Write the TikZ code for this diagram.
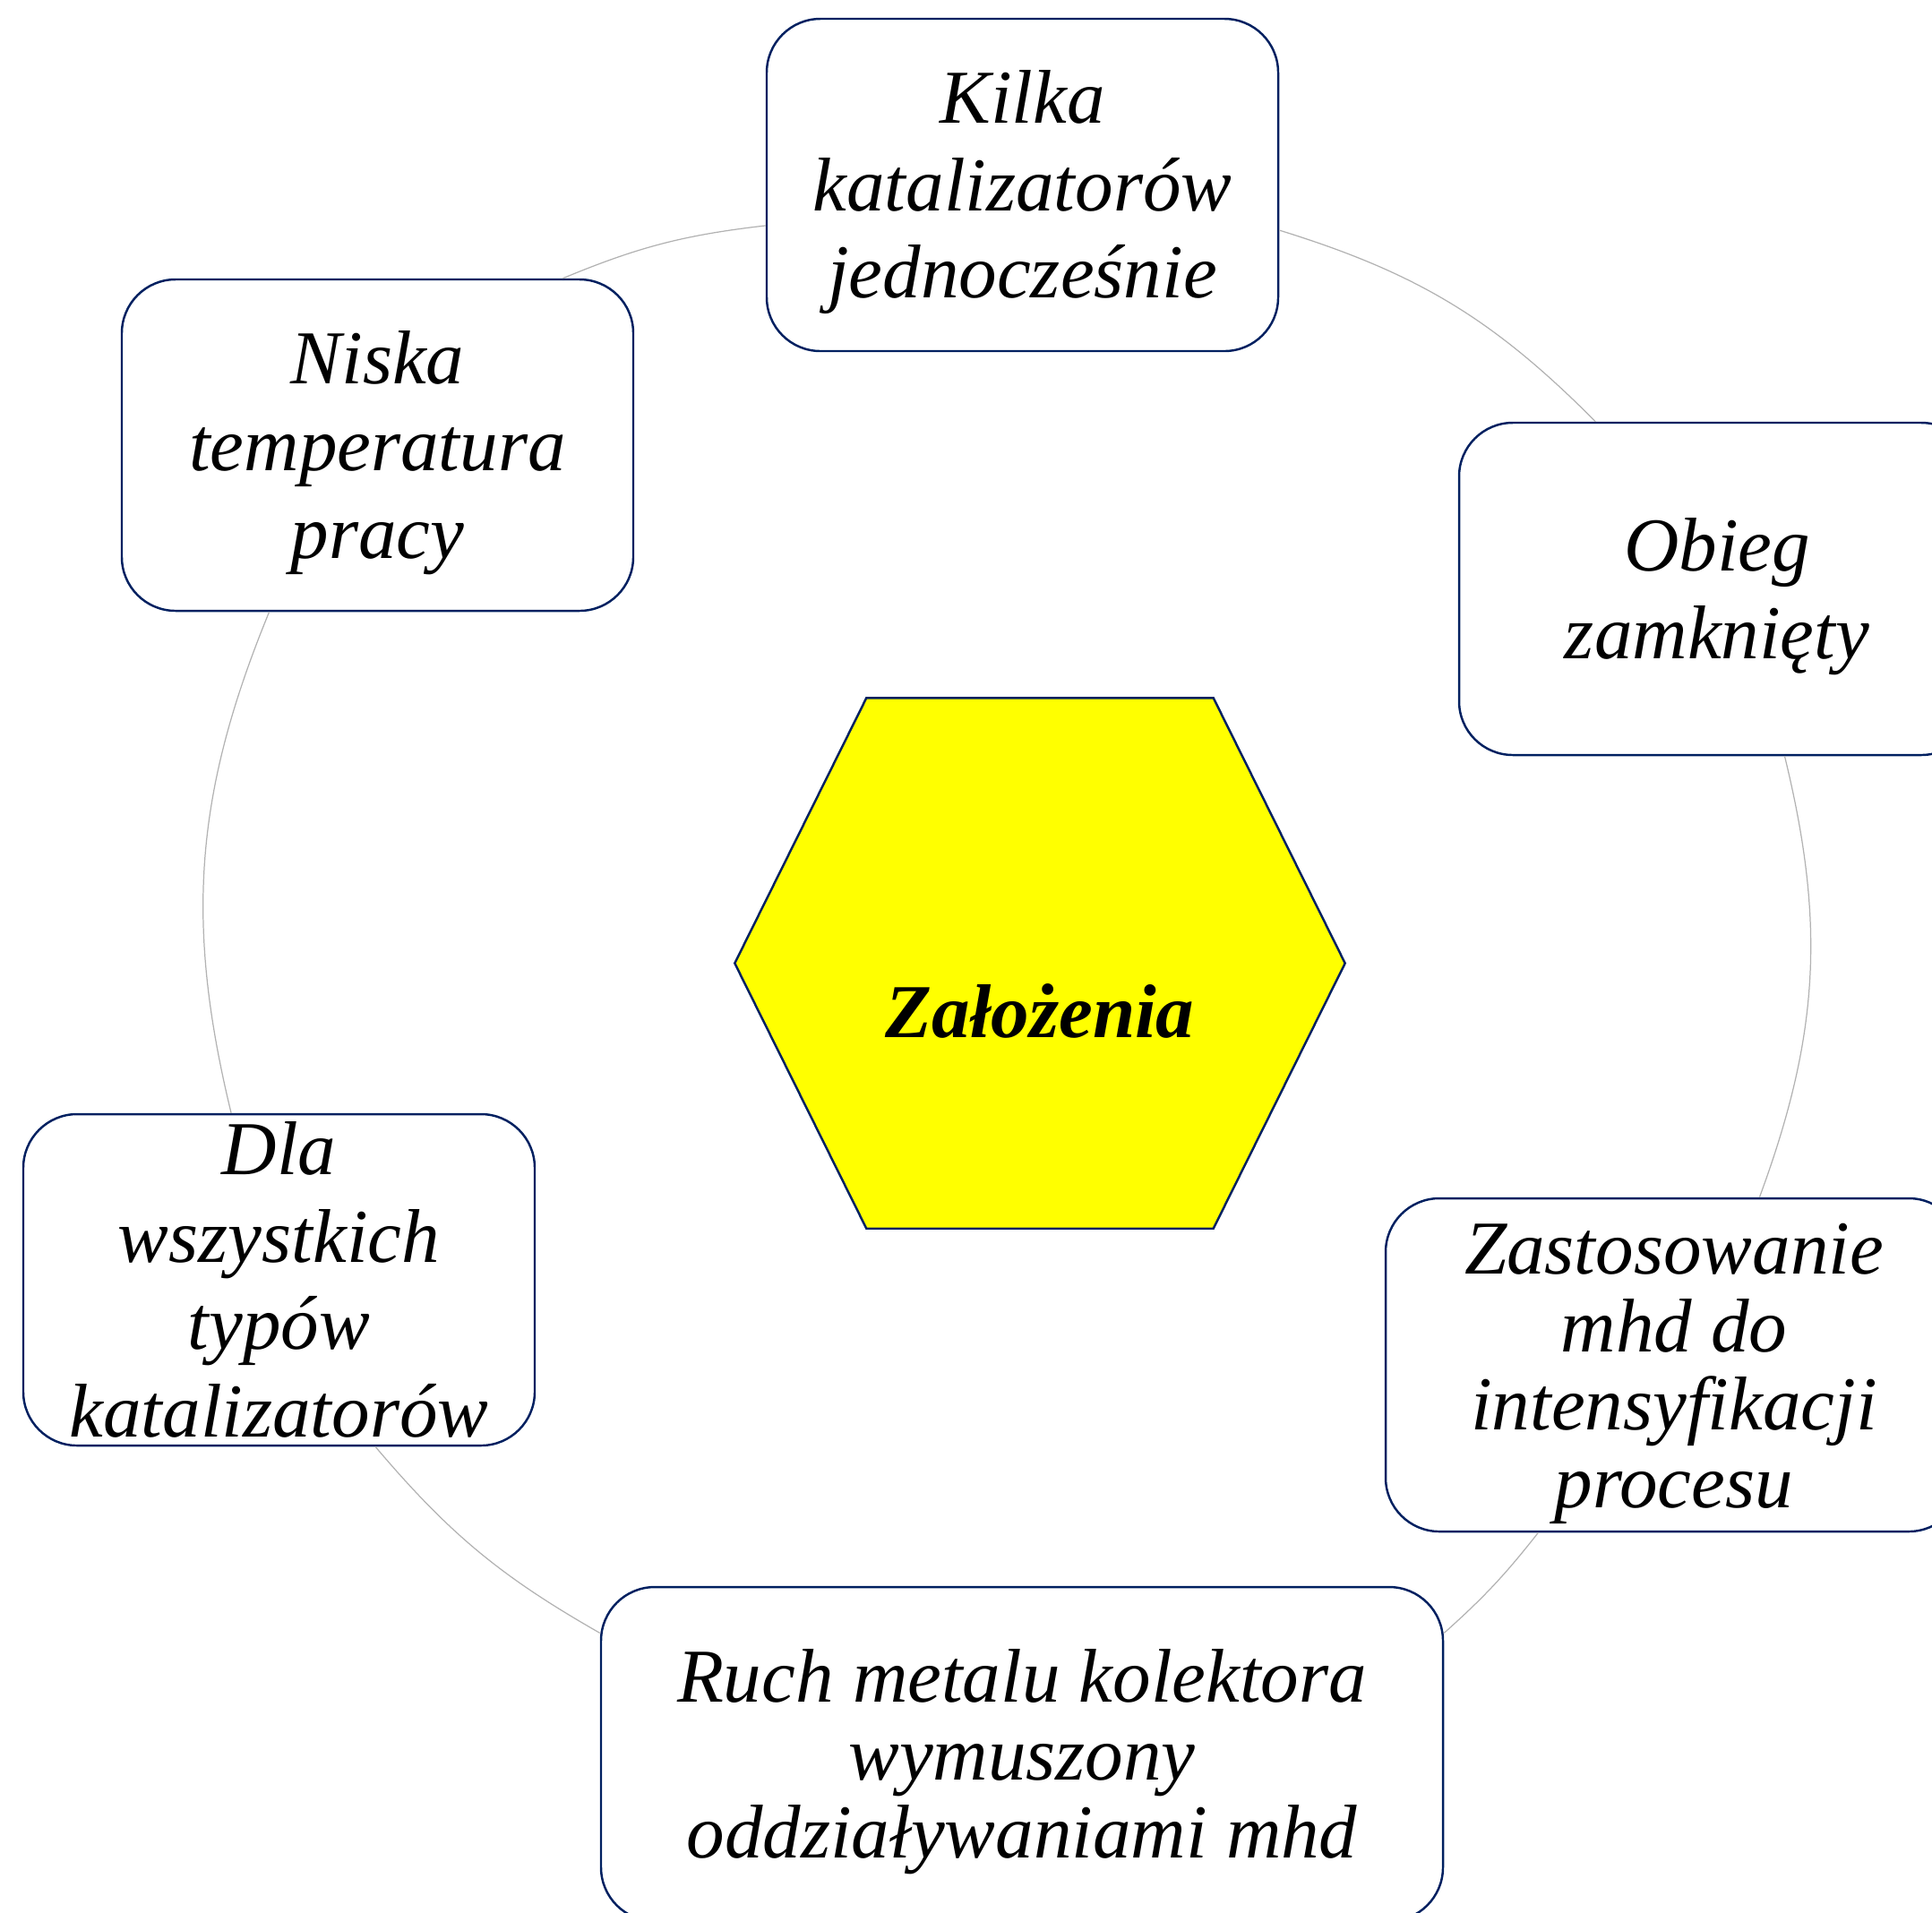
\documentclass[tikz,border=0pt]{standalone}
\usepackage{fontspec}
\setmainfont{Liberation Serif}
\usetikzlibrary{shapes.geometric, positioning}
\definecolor{granat}{RGB}{0,32,96}
\definecolor{szary}{RGB}{178,178,178}
\definecolor{zolty}{RGB}{255,255,0}
\newcommand{\gora}{\rule{0pt}{0.891em}}
\newcommand{\dol}{\rule[-0.216em]{0pt}{0.216em}}

\begin{document}
\begin{tikzpicture}[
  cel/.style={rectangle, draw=granat, line width=0.7pt, rounded corners=0.6cm, fill=white, align=center, inner sep=0pt, minimum width=5.71cm, minimum height=3.71cm, font=\fontsize{24.2}{27.8}\selectfont\itshape},
  ciasny/.style={font=\fontsize{24.2}{24.8}\selectfont\itshape},
  szesc/.style={draw=granat, line width=0.7pt, fill=zolty},
  luk/.style={draw=szary, line width=0.35pt}
]
  \useasboundingbox (0,0) rectangle (21.57,-21.35);

  % Srodek
  \node[minimum width=6.8cm, minimum height=5.91cm, inner sep=0pt] (zal) at (11.61,-10.755) {};
  \draw[szesc] (zal.west) -- ([xshift=1.47cm]zal.north west) -- ([xshift=-1.47cm]zal.north east)
    -- (zal.east) -- ([xshift=-1.47cm]zal.south east) -- ([xshift=1.47cm]zal.south west) -- cycle;
  \node[font=\fontsize{24.2}{27.8}\selectfont\bfseries\itshape] (zaltxt) at ([yshift=-0.53cm]zal.center) {Założenia};

  % Zalozenia dookola
  \node[cel] (kilka) at (11.415,-2.065) {\gora Kilka\\katalizatorów\\jednocześnie\dol};
  \node[cel, minimum width=5.76cm] (obieg) at (19.17,-6.575) {\gora Obieg\\zamknięty\dol};
  \node[cel, ciasny, minimum width=6.44cm, minimum height=3.72cm] (zast) at (18.69,-15.24) {\gora Zastosowanie\\mhd do\\intensyfikacji\\procesu\dol};
  \node[cel, ciasny, minimum width=9.4cm, minimum height=3.73cm] (ruch) at (11.41,-19.585) {\gora Ruch metalu kolektora\\wymuszony\\oddziaływaniami mhd\dol};
  \node[cel, minimum height=3.7cm] (dla) at (3.115,-14.29) {Dla\\wszystkich\\typów\\katalizatorów};
  \node[cel, minimum height=3.7cm] (niska) at (4.215,-4.97) {\gora Niska\\temperatura\\pracy\dol};

  \draw[luk] (niska.42) to[bend left=8] (kilka.189.6);
  \draw[luk] (kilka.350.3) to[bend left=14] (obieg.126);
  \draw[luk] (obieg.292) to[bend left=17] (zast.63);
  \draw[luk] (zast.231) to[bend left=5] (ruch.16);
  \draw[luk] (ruch.164) to[bend left=10] (dla.300);
  \draw[luk] (dla.106) to[bend left=18] (niska.237);
\end{tikzpicture}
\end{document}
